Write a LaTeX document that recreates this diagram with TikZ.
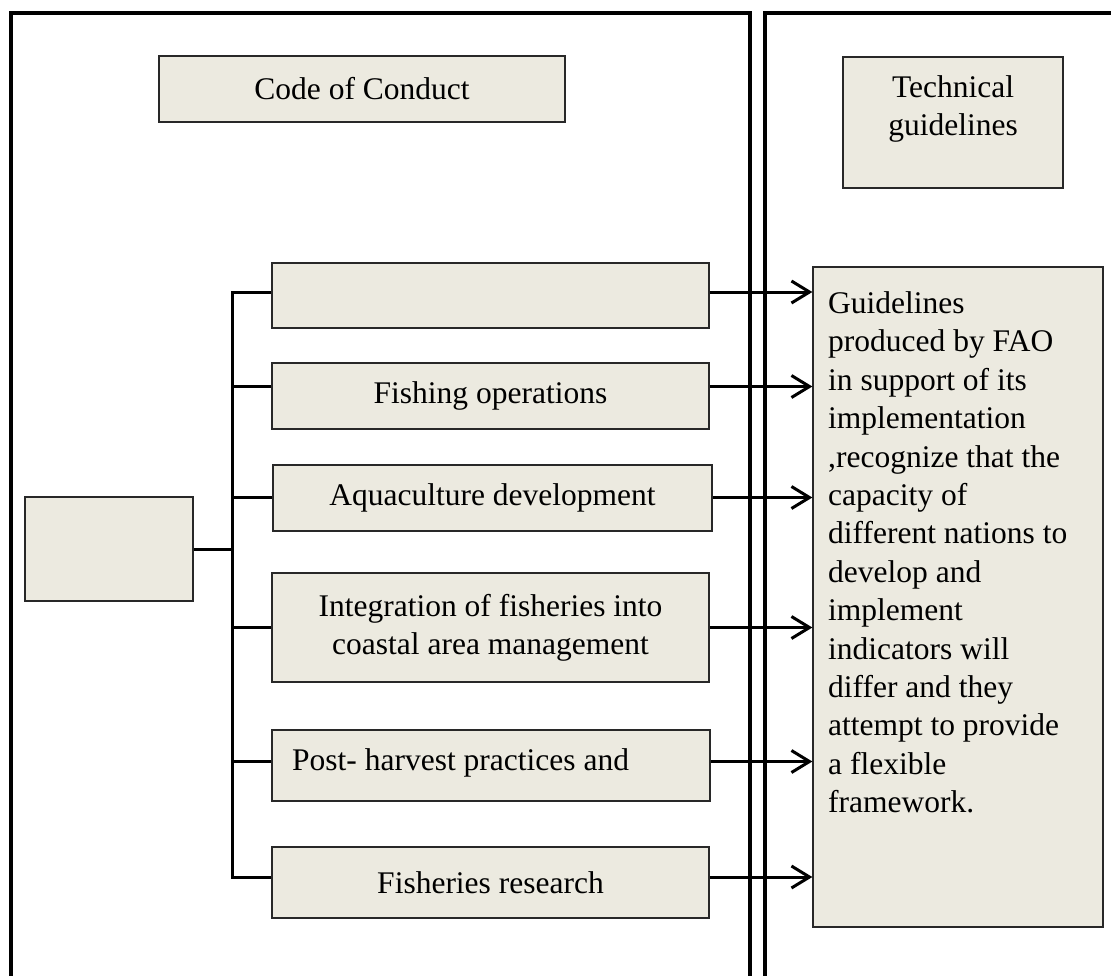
\documentclass[tikz,border=0pt]{standalone}
\usepackage{fontspec}
\setmainfont{Liberation Serif}
\usepackage{tikz}
\usetikzlibrary{arrows.meta,positioning,calc}
\definecolor{boxfill}{RGB}{236,234,224}
\definecolor{boxline}{RGB}{40,40,40}
\tikzset{
  %% Boxes
  ccBox/.style={draw=boxline, fill=boxfill, line width=1.3pt, inner sep=0pt,
    align=center},
  ccText/.style={inner sep=0pt, align=center},
  %% Panel frames and connectors
  ccPanel/.style={line width=3.6pt},
  ccLink/.style={line width=3pt},
  ccArr/.style={line width=3pt, -{Straight Barb[length=18pt, width=22pt]}},
}

\begin{document}
\begin{tikzpicture}[x=1pt, y=-1pt, font=\fontsize{31.5}{38.4}\selectfont]
\clip (0,0) rectangle (1111,975);

%% Panels (open at the bottom)
\draw[ccPanel] (11,1000) -- (11,13) -- (750,13) -- (750,1000);
\draw[ccPanel] (765,1000) -- (765,13) -- (1140,13) -- (1140,1000);

%% Headings
\node[ccBox, minimum width=406, minimum height=66] (coc) at (362,89) {Code of Conduct};
\node[ccBox, minimum width=220, minimum height=131] (tech) at (953,122.5) {};
\node[ccText, anchor=north] (techTxt) at (953,75.5) {Technical\\guidelines};

%% Technical guidelines text box
\node[ccBox, minimum width=290, minimum height=660] (guide) at (958,597) {};
\node[ccText, align=left, anchor=north west] (guideTxt) at (828,291.5)
  {Guidelines\\produced by FAO\\in support of its\\implementation\\,recognize that the\\capacity of\\different nations to\\develop and\\implement\\indicators will\\differ and they\\attempt to provide\\a flexible\\framework.};

%% Root and topic boxes
\node[ccBox, minimum width=168, minimum height=104] (root) at (109,549) {};
\node[ccBox, minimum width=437, minimum height=65]  (tBlank) at (490.5,295.5) {};
\node[ccBox, minimum width=437, minimum height=66]  (fish)   at (490.5,396) {Fishing operations};
\node[ccBox, minimum width=439, minimum height=66]  (aqua)   at (492.5,498) {Aquaculture development};
\node[ccBox, minimum width=437, minimum height=109] (integ)  at (490.5,627.5) {Integration of fisheries into\\coastal area management};
\node[ccBox, minimum width=438, minimum height=71]  (post)   at (491,765.5) {};
\node[ccText, anchor=base west] (postTxt) at (292,770) {Post- harvest practices and};
\node[ccBox, minimum width=437, minimum height=71]  (res)    at (490.5,882.5) {Fisheries research};

%% Bracket
\coordinate (spine) at (232,551);
\draw[ccLink] (root.east) -- (root.east -| spine);
\draw[ccLink, line cap=rect] ([yshift=3.5pt]tBlank.west -| spine) -- ([yshift=5.5pt]res.west -| spine);
\foreach \b/\s in {tBlank/3.5, fish/9.5, aqua/0.5, integ/0, post/4, res/5.5}{
  \draw[ccLink] ([yshift=\s pt]\b.west -| spine) -- ([yshift=\s pt]\b.west);
  \draw[ccArr] ([yshift=\s pt]\b.east) -- ([yshift=\s pt]\b.east -| guide.west);
}

\end{tikzpicture}
\end{document}
